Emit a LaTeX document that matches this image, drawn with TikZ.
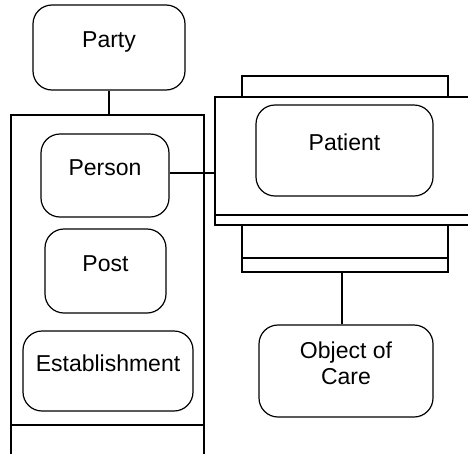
\documentclass[tikz,border=0pt]{standalone}
\usepackage{fontspec}
\setmainfont{Liberation Sans}
\usetikzlibrary{positioning,calc}
\newcommand{\boxfont}{\fontsize{23}{26}\selectfont}
\definecolor{erInk}{HTML}{000000}

\begin{document}
\begin{tikzpicture}[x=1pt,y=-1pt,
    entity/.style={draw=erInk,line width=1.2pt,rounded corners=19pt,align=center,
      inner sep=0pt,text height=16pt,text depth=16pt,font=\boxfont},
    frame/.style={draw=erInk,line width=1.2pt,inner sep=0pt},
    link/.style={draw=erInk,line width=1.2pt}]
        \useasboundingbox (0,0) rectangle (468,453);
        \clip (0,0) rectangle (468,453);
        % outer frames (cut by the picture edge)
        \node[frame,minimum width=193pt,minimum height=360pt] (partyset) at (107.5,295) {};
        \node[frame,minimum width=275pt,minimum height=128pt] (careset) at (352.5,161) {};
        \draw[link] (partyset.west |- 0,425) -- (partyset.east |- 0,425);
        \draw[link] (careset.west |- 0,215) -- (careset.east |- 0,215);
        \draw[link] (242,97) |- (448,76) -- (448,97);
        \node[frame,minimum width=206pt,minimum height=47pt] (careref) at (345,248.5) {};
        \draw[link] (careref.west |- 0,258) -- (careref.east |- 0,258);
        % entities
        \node[entity,minimum width=152pt,minimum height=85pt] (party) at (109,47.5) {Party};
        \node[entity,minimum width=128pt,minimum height=83pt] (person) at (105,175.5) {Person};
        \node[entity,minimum width=121pt,minimum height=84pt] (post) at (105.5,271) {Post};
        \node[entity,minimum width=170pt,minimum height=80pt] (estab) at (108,371) {Establishment};
        \node[entity,minimum width=177pt,minimum height=91pt] (patient) at (344.5,150.5) {Patient};
        \node[entity,minimum width=174pt,minimum height=92pt,text height=42pt] (object) at (346,371) {Object of\\Care};
        % connectors
        \draw[link] (party.south) -- (party.south |- partyset.north);
        \draw[link] (person.east |- 0,173) -- (careset.west |- 0,173);
        \draw[link] (careref.south -| 342,0) -- (object.north -| 342,0);
      \end{tikzpicture}
\end{document}
